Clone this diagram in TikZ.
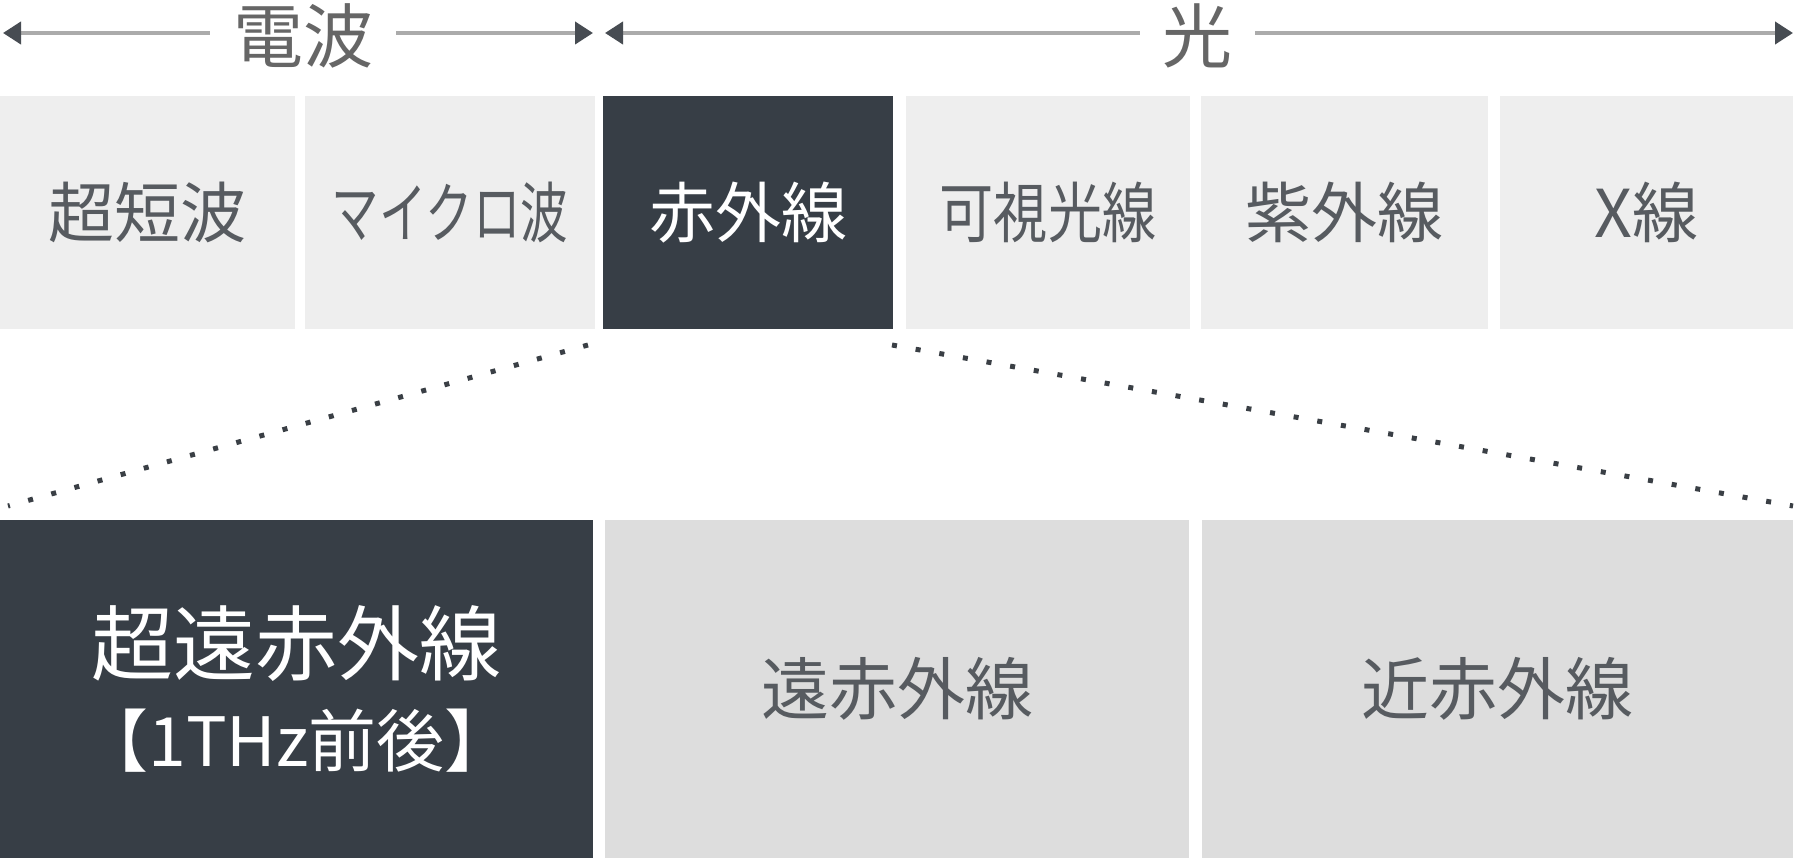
\documentclass[tikz,border=0pt]{standalone}
\usepackage{fontspec}
\setmainfont{Noto Sans CJK JP}
\usetikzlibrary{arrows.meta}
\definecolor{lighta}{HTML}{EEEEEE}
\definecolor{lightb}{HTML}{DDDDDD}
\definecolor{darkbox}{HTML}{373E46}
\definecolor{txtgray}{HTML}{575B60}
\definecolor{lblgray}{HTML}{666666}
\definecolor{arrline}{HTML}{ABABAB}
\definecolor{arrtip}{HTML}{474C52}
\definecolor{dotcol}{HTML}{3A3F45}
\tikzset{
  boxbase/.style={inner sep=0pt, outer sep=0pt, draw=none, align=center},
  topbox/.style={boxbase, fill=lighta, text=txtgray, minimum height=233pt,
     font=\fontsize{66}{70}\selectfont},
  topdark/.style={boxbase, fill=darkbox, text=white, minimum height=233pt,
     font=\fontsize{66}{70}\selectfont},
  botbox/.style={boxbase, fill=lightb, text=txtgray, minimum height=338pt,
     font=\fontsize{68}{72}\selectfont},
  botdark/.style={boxbase, fill=darkbox, text=white, minimum height=338pt,
     font=\fontsize{82}{96}\selectfont},
  rangearrow/.style={draw=arrline, line width=4pt,
     {Triangle[length=18pt,width=22pt,color=arrtip]}-{Triangle[length=18pt,width=22pt,color=arrtip]}},
  rangelabel/.style={inner sep=0pt, fill=white, text=lblgray, minimum height=60pt,
     font=\fontsize{70}{74}\selectfont},
  zoomline/.style={draw=dotcol, line width=5pt, dash pattern=on 5pt off 19pt}
}
\begin{document}
\begin{tikzpicture}[x=1pt,y=-1pt]
\useasboundingbox (0,0) rectangle (1800,864);
\fill[white] (0,0) rectangle (1800,864);
% top row
\node[topbox, minimum width=295pt] (b1) at (147.5,212.5) {超短波};
\node[topbox, minimum width=290pt] (b2) at (450,212.5) {\scalebox{0.72}[1]{マイクロ波}};
\node[topdark, minimum width=290pt] (b3) at (748,212.5) {赤外線};
\node[topbox, minimum width=284pt] (b4) at (1048,212.5) {\scalebox{0.82}[1]{可視光線}};
\node[topbox, minimum width=287pt] (b5) at (1344.5,212.5) {紫外線};
\node[topbox, minimum width=293pt] (b6) at (1646.5,212.5) {X線};
% bottom row
\node[botdark, minimum width=593pt] (c1) at (296.5,689) {超遠赤外線\\[-4pt]{\fontsize{68}{72}\selectfont 【1THz前後】}};
\node[botbox, minimum width=584pt] (c2) at (897,689) {遠赤外線};
\node[botbox, minimum width=591pt] (c3) at (1497.5,689) {近赤外線};
% range arrows
\coordinate (r1) at ([xshift=3pt]b1.north west |- 0,33);
\coordinate (r2) at ([xshift=-2pt]b2.north east |- 0,33);
\coordinate (r3) at ([xshift=2pt]b3.north west |- 0,33);
\coordinate (r4) at (b6.north east |- 0,33);
\draw[rangearrow] (r1) -- (r2);
\draw[rangearrow] (r3) -- (r4);
\node[rangelabel, minimum width=186pt] (l1) at (303,36) {電波};
\node[rangelabel, minimum width=115pt] (l2) at (1197.5,36) {光};
% zoom lines
\draw[zoomline] ([shift={(-15,16)}]b3.south west) -- ([shift={(8,-14)}]c1.north west);
\draw[zoomline] ([shift={(-1,16)}]b3.south east) -- ([shift={(0,-14)}]c3.north east);
\end{tikzpicture}
\end{document}
